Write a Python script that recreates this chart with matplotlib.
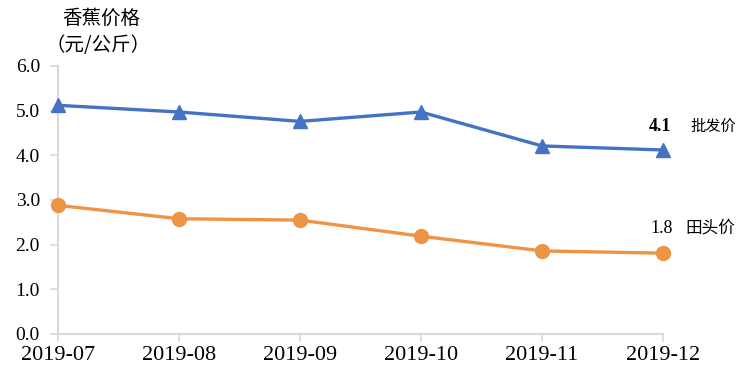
import matplotlib.pyplot as plt

plt.rcParams['font.family'] = ['Liberation Serif', 'Noto Sans CJK SC', 'DejaVu Sans']

months = ['2019-07', '2019-08', '2019-09', '2019-10', '2019-11', '2019-12']
wholesale = [5.12, 4.97, 4.76, 4.97, 4.21, 4.12]
farm = [2.88, 2.58, 2.55, 2.19, 1.86, 1.81]
yticks = [0.0, 1.0, 2.0, 3.0, 4.0, 5.0, 6.0]

fig = plt.figure(figsize=(7.51, 3.85), dpi=100)
ax = fig.add_axes([58/751, 1 - 334/385, (663 - 58)/751, (334 - 66)/385])

x = list(range(len(months)))
ax.plot(x, wholesale, color='#4472C4', lw=2.4, marker='^', ms=10, clip_on=False, zorder=3)
ax.plot(x, farm, color='#ED9445', lw=2.4, marker='o', ms=10, clip_on=False, zorder=3)

ax.set_xlim(0, len(months) - 1)
ax.set_ylim(0, 6)
ax.set_xticks(x)
ax.set_xticklabels(months, fontsize=16)
ax.set_yticks(yticks)
ax.set_yticklabels(['%.1f' % v for v in yticks], fontsize=14)

for s in ['top', 'right']:
    ax.spines[s].set_visible(False)
for s in ['left', 'bottom']:
    ax.spines[s].set_color('#d9d9d9')
    ax.spines[s].set_linewidth(1.5)
ax.tick_params(color='#d9d9d9', width=1.2, length=6)
ax.tick_params(axis='y', pad=7)
ax.tick_params(axis='x', pad=3)

fig.text(101/751, 1 - 18/385, '香蕉价格', ha='center', va='center', fontsize=14,
         family=['Noto Sans CJK SC'])
fig.text(98/751, 1 - 45/385, '（元/公斤）', ha='center', va='center', fontsize=14,
         family=['Noto Sans CJK SC'])

ax.annotate('%.1f' % wholesale[-1], (x[-1], wholesale[-1]), xytext=(-10, 17),
            textcoords='offset points', fontsize=13, fontweight='bold', ha='left', va='center')
ax.annotate('批发价', (x[-1], wholesale[-1]), xytext=(20, 17),
            textcoords='offset points', fontsize=11, ha='left', va='center',
            family=['Noto Sans CJK SC'], annotation_clip=False)
ax.annotate('%.1f' % farm[-1], (x[-1], farm[-1]), xytext=(-9, 18),
            textcoords='offset points', fontsize=13, ha='left', va='center')
ax.annotate('田头价', (x[-1], farm[-1]), xytext=(16, 18),
            textcoords='offset points', fontsize=12, ha='left', va='center',
            family=['Noto Sans CJK SC'], annotation_clip=False)

fig.savefig('out.png', dpi=100)
